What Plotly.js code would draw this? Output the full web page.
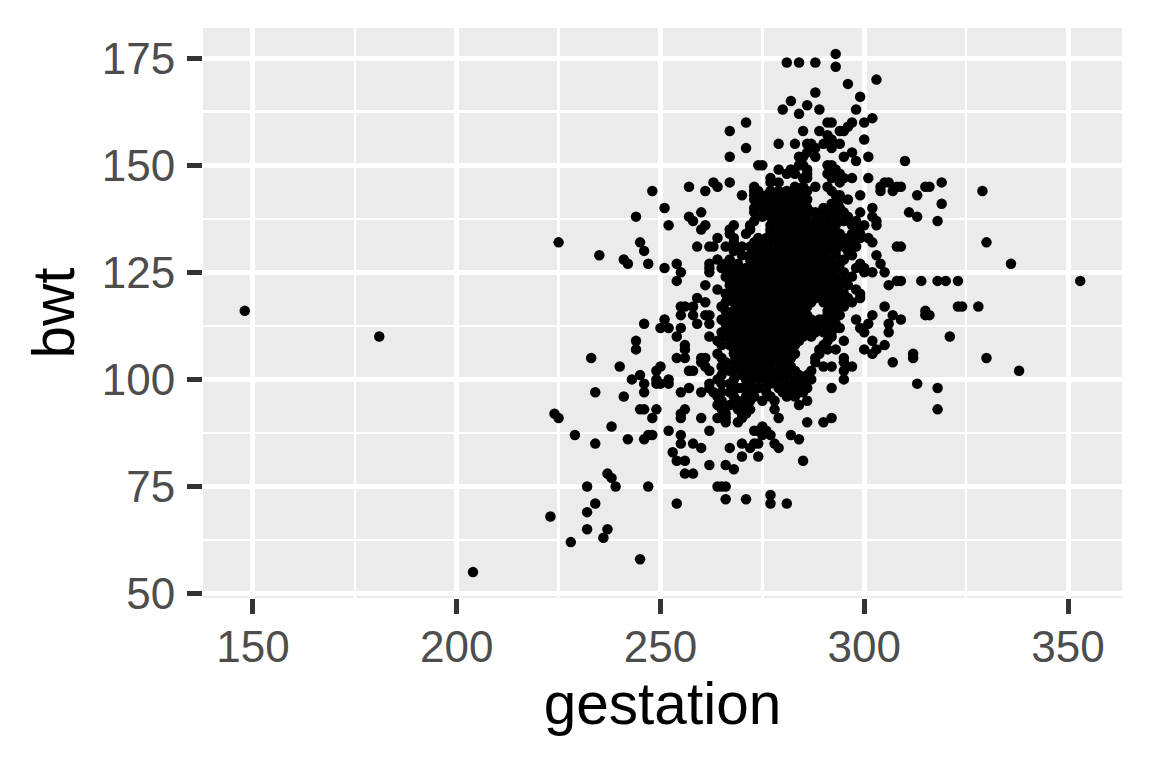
<!DOCTYPE html>
<html>
<head>
<meta charset="utf-8">
<script src="https://cdn.plot.ly/plotly-3.0.1.min.js"></script>
<style>html,body{margin:0;padding:0;background:#fff}</style>
</head>
<body>
<div id="chart" style="width:1152px;height:768px"></div>
<script>
// Each row: [bwt, [gestation values read at that bwt]]
const upperCloud = [
[176,[293]],[174,[281,284,288]],[173,[293]],[170,[303]],[169,[296]],[167,[288]],[166,[299]],[165,[282]],
[164,[286]],[163,[280,289,298]],[162,[284]],[161,[302]],[160,[271,291,292,297,300]],[159,[296]],
[158,[267,285,289,294,295]],[157,[291]],[156,[292,300]],[155,[279,283,286,287,290,294]],[154,[271,288,292]],
[153,[286,297]],[152,[267,284,285,288,295,301]],[151,[298,310]],[150,[274,275,284,285,291,292]],
[149,[279,282,286,293]],[148,[281,283,286,291,294]],[147,[277,285,286,292,295,297,301]],
[146,[263,267,277,279,294,305,306,319]],[145,[257,264,273,283,285,288,291,304,308,309,315,316]],
[144,[248,261,273,274,277,279,281,284,286,292,304,307,329]],
[143,[270,273,276,278,280,282,284,285,293,294,299,313]],
[142,[273,275,277,280,283,285,286,294,296]],[141,[274,276,279,281,283,285,292,293,319]],
[140,[251,273,275,277,279,282,284,286,290,293,294,302]],
[139,[260,273,276,278,280,282,284,287,288,291,295,299,311]],
[138,[244,257,275,277,279,281,283,285,289,292,293,296,302,313]],
[137,[258,273,278,280,282,284,286,288,290,295,298,303,318]],
[136,[252,261,268,272,277,279,281,283,285,287,289,291,293,297,300,303]],
[135,[260,267,272,277,280,282,284,286,288,290,292,298]],
[134,[267,271,277,279,281,283,285,287,289,291,294,297,299]],
[133,[264,268,274,276,278,280,282,284,286,288,290,293,296,299,301]]
];
const denseCore = [
[132,[225,245,268,273,275,277,279,281,283,285,287,289,291,294,297,302,330]],
[131,[259,262,263,266,270,272,274,276,279,280,282,284,286,288,290,292,295,298,308,309]],
[130,[246,268,273,275,277,279,281,283,285,287,289,291,293,296]],
[129,[235,270,272,274,276,278,280,282,284,286,288,290,293,297,303]],
[128,[241,264,267,272,275,277,279,281,283,285,287,289,291,295]],
[127,[242,247,254,262,266,269,273,276,278,280,282,284,286,288,290,292,294,299,304,336]],
[126,[251,262,265,268,271,274,275,277,279,281,283,285,287,289,291,293,298,300]],
[125,[255,262,267,270,272,274,276,278,280,282,284,286,288,290,292,295,300,302,305]],
[124,[266,269,271,273,275,277,279,281,283,285,287,289,291,293,297]],
[123,[254,267,268,270,272,274,276,278,280,282,284,286,288,290,292,295,308,309,314,318,320,323,353]],
[122,[261,267,269,271,273,275,277,279,281,283,285,287,289,291,294,296,306]],
[121,[264,268,270,272,274,276,278,280,282,284,286,288,290,293,298]],
[120,[266,269,271,273,275,277,279,281,283,285,287,289,292,295,299]],
[119,[259,267,270,272,274,276,278,280,282,284,286,288,291,293,296,299]],
[118,[261,266,268,271,273,275,277,279,281,283,285,287,290,291,294,297]],
[117,[255,256,258,265,269,270,272,274,276,278,280,282,284,286,292,295,305,323,324,328]],
[116,[148,266,268,271,273,275,277,279,281,283,285,291,293,315]],
[115,[255,258,261,262,267,270,272,274,276,278,280,282,284,286,291,294,302,307,315,316]],
[114,[251,265,268,270,273,275,277,279,281,283,285,287,289,290,292,298,309]],
[113,[246,259,262,266,269,271,272,274,276,278,280,281,282,284,286,288,289,291,293,301,306]],
[112,[250,252,255,267,270,273,275,277,279,280,283,285,287,290,291,294,299]],
[111,[265,268,271,272,273,275,276,278,280,281,282,284,286,288,290,292,300,306]],
[110,[181,254,262,266,268,270,272,274,276,277,279,280,283,285,287,292,321]],
[109,[244,264,268,270,271,273,275,277,278,281,282,284,291,295,302]],
[108,[256,265,267,269,271,274,276,277,279,280,283,290,305]],
[107,[244,256,268,270,272,273,275,278,279,281,282,289,291,293,300,303]],
[106,[264,268,269,271,273,276,277,279,280,283,289,302,312]],
[105,[233,254,256,260,261,265,269,271,274,275,277,278,281,282,288,295,312,330]],
[104,[260,266,268,270,272,275,277,279,281,288,295,307]],
[103,[240,250,261,265,270,273,274,276,277,280,282,290,292,297]],
[102,[249,257,258,262,267,268,271,272,275,277,279,283,287,295,338]],
[101,[245,265,270,273,275,276,278,281,284,286]],
[100,[243,249,252,264,268,271,274,278,280,283,285,287,295]]
];
const lowerCloud = [
[99,[246,249,250,252,262,265,267,272,276,277,281,284,313]],
[98,[257,262,269,270,274,279,282,286,292,318]],
[97,[234,246,255,260,263,265,267,272,276,280,284,285]],
[96,[241,264,268,271,273,277,281,283]],[95,[265,269,272,275,278,286]],
[94,[264,267,270,284]],[93,[245,246,249,256,265,269,272,278,318]],[92,[224,255,266,270,271]],
[91,[225,248,255,260,264,266,270,279,292]],[90,[266,269,286,290]],[89,[238,275]],
[88,[252,262,273,274,276]],[87,[229,247,248,255,275,277,282]],[86,[242,246,284]],
[85,[234,255,258,270,273,274,278]],[84,[260,267,272,279]],[83,[253]],[82,[270,274]],
[81,[254,256,285]],[80,[262,266]],[79,[268]],[78,[237,256,258]],[77,[238]],
[75,[232,239,247,264,265,266]],[73,[277]],[72,[266,271]],[71,[234,254,277,281]],
[69,[232]],[68,[223]],[65,[232,237]],[63,[236]],[62,[228]],[58,[245]],[55,[204]]
];

const allRows = upperCloud.concat(denseCore, lowerCloud);
const gestation = [];
const bwt = [];
allRows.forEach(function (row) {
  row[1].forEach(function (g) { gestation.push(g); bwt.push(row[0]); });
});

const xTicks = [150, 200, 250, 300, 350];
const yTicks = [50, 75, 100, 125, 150, 175];
const xMinor = [175, 225, 275, 325];
const yMinor = [62.5, 87.5, 112.5, 137.5, 162.5];

const tickFont = {family: '"Liberation Sans", Arial, sans-serif', size: 44, color: '#4D4D4D'};
const titleFont = {family: '"Liberation Sans", Arial, sans-serif', size: 58.5, color: '#000000'};

function axis(ticks, minor, range, title, standoff, labelStandoff) {
  return {
    range: range,
    tickmode: 'array',
    tickvals: ticks,
    ticktext: ticks.map(String),
    ticks: 'outside',
    ticklen: 15,
    tickwidth: 5,
    tickcolor: '#333333',
    tickfont: tickFont,
    ticklabelstandoff: labelStandoff,
    showgrid: true,
    gridcolor: '#FFFFFF',
    gridwidth: 5,
    minor: {tickmode: 'array', tickvals: minor, showgrid: true, gridcolor: '#FFFFFF', gridwidth: 2.5, ticks: ''},
    zeroline: false,
    showline: false,
    automargin: false,
    title: {text: title, font: titleFont, standoff: standoff}
  };
}

Plotly.newPlot('chart', [{
  type: 'scatter',
  mode: 'markers',
  x: gestation,
  y: bwt,
  marker: {color: '#000000', size: 10.5, line: {width: 0}},
  hoverinfo: 'x+y'
}], {
  width: 1152,
  height: 768,
  autosize: false,
  showlegend: false,
  paper_bgcolor: '#FFFFFF',
  plot_bgcolor: '#EBEBEB',
  margin: {l: 203, r: 30, t: 28, b: 170, pad: 0},
  xaxis: axis(xTicks, xMinor, [137.75, 363.25], 'gestation', 12, -5),
  yaxis: axis(yTicks, yMinor, [48.95, 182.05], 'bwt', 8, 3)
}, {displayModeBar: false, staticPlot: true});
</script>
</body>
</html>
